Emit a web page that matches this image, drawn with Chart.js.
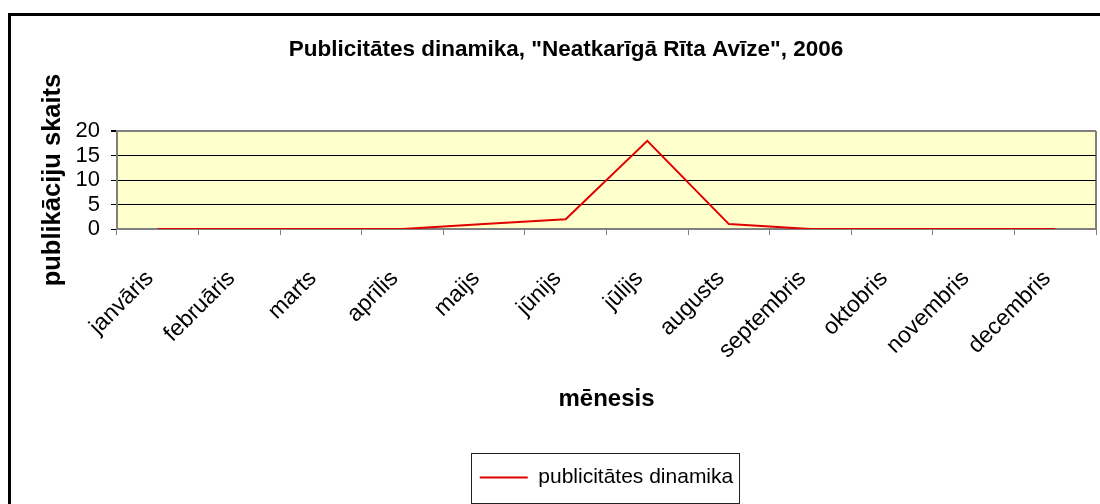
<!DOCTYPE html>
<html>
<head>
<meta charset="utf-8">
<script src="https://cdn.jsdelivr.net/npm/chart.js@4"></script>
<style>
  html, body { margin: 0; padding: 0; background: #fff; overflow: hidden; }
  #wrap { position: absolute; left: 0; top: 0; width: 1132px; height: 504px; }
</style>
</head>
<body>
<div id="wrap"><canvas id="myChart" width="1132" height="504"></canvas></div>
<script>
const months = ['janvāris', 'februāris', 'marts', 'aprīlis', 'maijs', 'jūnijs', 'jūlijs', 'augusts', 'septembris', 'oktobris', 'novembris', 'decembris']
const publications = [0, 0, 0, 0, 1, 2, 18, 1, 0, 0, 0, 0]
const seriesName = 'publicitātes dinamika'
const chartTitle = 'Publicitātes dinamika, "Neatkarīgā Rīta Avīze", 2006'
const xTitle = 'mēnesis'
const yTitle = 'publikāciju skaits'

Chart.defaults.font.family = '"Liberation Sans", Arial, sans-serif'
Chart.defaults.color = '#000'

// yellow plot area, outer frame, right border of the plot
const plotFrame = {
  id: 'plotFrame',
  beforeDraw(chart) {
    const { ctx, chartArea: a } = chart
    ctx.save()
    ctx.fillStyle = '#fff'
    ctx.fillRect(0, 0, chart.width, chart.height)
    ctx.strokeStyle = '#000'
    ctx.lineWidth = 3
    ctx.strokeRect(9.5, 14.5, chart.width + 20, chart.height + 20)
    ctx.fillStyle = '#FFFFCC'
    ctx.fillRect(a.left, a.top, a.right - a.left, a.bottom - a.top)
    ctx.strokeStyle = '#808080'
    ctx.lineWidth = 2
    ctx.beginPath()
    ctx.moveTo(a.right, a.top)
    ctx.lineTo(a.right, a.bottom)
    ctx.stroke()
    ctx.restore()
  },
  afterDraw(chart) {
    // border round the legend
    const hb = chart.legend.legendHitBoxes[0]
    if (!hb) return
    const { ctx } = chart
    ctx.save()
    ctx.strokeStyle = '#222'
    ctx.lineWidth = 1
    ctx.strokeRect(Math.round(hb.left - 9) + 0.5, Math.round(hb.top - 14) + 0.5,
      Math.round(hb.width + 15), Math.round(hb.height + 29))
    ctx.restore()
  },
}

new Chart(document.getElementById('myChart'), {
  type: 'line',
  data: {
    labels: months,
    datasets: [
      {
        label: seriesName,
        data: publications,
        borderColor: '#E00000',
        backgroundColor: '#E00000',
        borderWidth: 2,
        pointRadius: 0,
        tension: 0,
      },
    ],
  },
  options: {
    responsive: false,
    animation: false,
    devicePixelRatio: 1,
    layout: {
      padding: { left: 36, right: 36, top: 0, bottom: 6 },
    },
    plugins: {
      title: {
        display: true,
        text: chartTitle,
        font: { size: 22.5, weight: 'bold' },
        padding: { top: 36, bottom: 68 },
      },
      legend: {
        position: 'bottom',
        fullSize: false,
        labels: {
          usePointStyle: true,
          pointStyle: 'line',
          pointStyleWidth: 48,
          font: { size: 21 },
          padding: 10,
        },
      },
      tooltip: { enabled: false },
    },
    scales: {
      x: {
        offset: true,
        afterFit: scale => { scale.height = 228 },
        grid: {
          offset: true,
          drawOnChartArea: false,
          tickLength: 6,
          color: '#808080',
        },
        border: { color: '#808080', width: 2 },
        ticks: {
          minRotation: 45,
          maxRotation: 45,
          autoSkip: false,
          labelOffset: -8,
          padding: 30,
          font: { size: 23 },
        },
        title: {
          display: true,
          text: xTitle,
          font: { size: 24, weight: 'bold' },
          padding: { top: 0, bottom: 43 },
        },
      },
      y: {
        min: 0,
        max: 20,
        afterFit: scale => { scale.width = 81 },
        grid: {
          color: ctx => (ctx.tick && ctx.tick.value === 20 ? '#808080' : '#000'),
          lineWidth: ctx => (ctx.tick && ctx.tick.value === 20 ? 2 : 1),
          tickColor: '#000',
          tickLength: 6,
        },
        border: { color: '#808080', width: 2 },
        ticks: {
          stepSize: 5,
          autoSkip: false,
          padding: 11,
          font: { size: 22 },
        },
        title: {
          display: true,
          text: yTitle,
          font: { size: 25.5, weight: 'bold' },
          padding: { top: 2, bottom: 0 },
        },
      },
    },
  },
  plugins: [plotFrame],
})
</script>
</body>
</html>
